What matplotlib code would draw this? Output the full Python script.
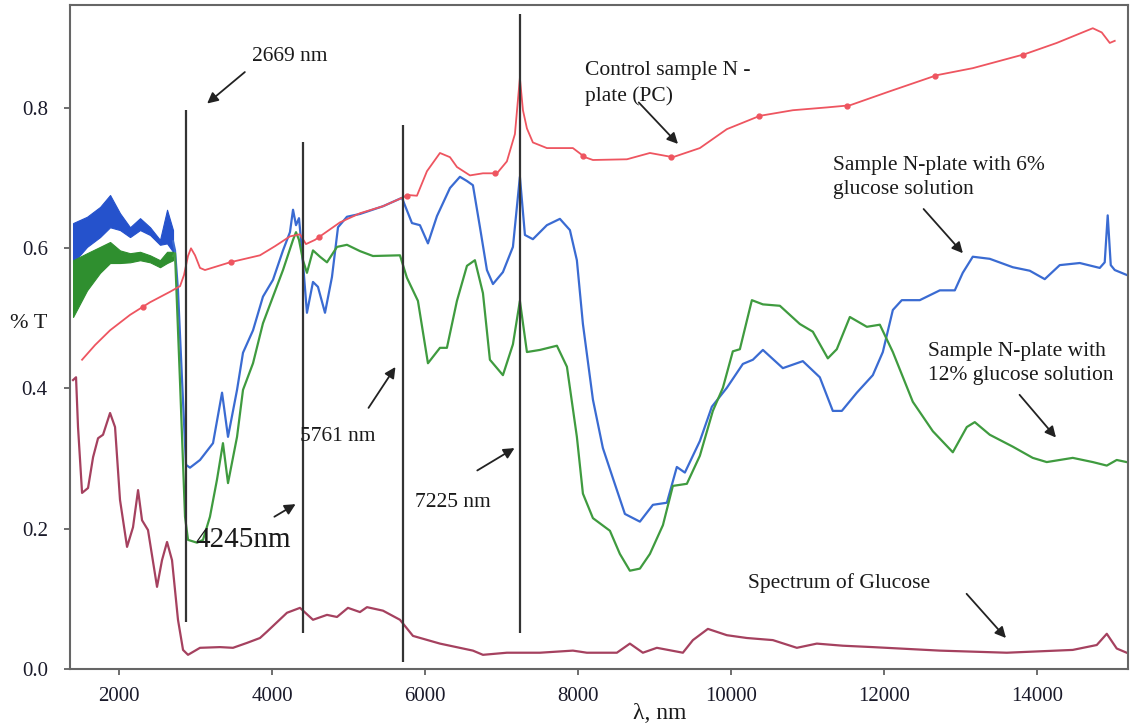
"""
FTIR transmission spectra: control N-plate, N-plate with 6% / 12% glucose, glucose
"""
import numpy as np
import matplotlib
matplotlib.use('Agg')
import matplotlib.pyplot as plt

plt.rcParams['font.family'] = ['Liberation Serif', 'DejaVu Serif']

# control sample N-plate (PC), red
red_x = [1517, 1687, 1883, 2144, 2406, 2667, 2798, 2850, 2902, 2941, 2994, 3059, 3124,
         3451, 3843, 4039, 4235, 4366, 4444, 4562, 4889, 5150, 5451, 5699, 5778, 5895,
         6026, 6196, 6327, 6418, 6588, 6758, 6941, 7071, 7176, 7241, 7281, 7333, 7411,
         7594, 7934, 8091, 8196, 8640, 8941, 9241, 9594, 9947, 10378, 10810, 11254,
         11555, 12077, 12692, 13162, 13842, 14260, 14731, 14848, 14953, 15018]
red_y = [0.441, 0.462, 0.483, 0.505, 0.523, 0.538, 0.546, 0.562, 0.589, 0.600, 0.590,
         0.572, 0.569, 0.580, 0.590, 0.603, 0.617, 0.620, 0.606, 0.612, 0.637, 0.650,
         0.660, 0.672, 0.676, 0.675, 0.710, 0.736, 0.730, 0.716, 0.704, 0.707, 0.707,
         0.724, 0.763, 0.843, 0.797, 0.771, 0.751, 0.743, 0.743, 0.730, 0.726, 0.727,
         0.736, 0.730, 0.743, 0.770, 0.789, 0.797, 0.801, 0.804, 0.824, 0.847, 0.857,
         0.877, 0.893, 0.914, 0.908, 0.893, 0.896]
red_dot_x = [2314, 3464, 4614, 5764, 6914, 8064, 9214, 10364, 11514, 12664, 13814]

# noisy start of the two sample spectra (lower / upper envelope)
band_x = [1399, 1582, 1752, 1883, 2013, 2144, 2275, 2406, 2536, 2628, 2706]
blue_lo = [0.579, 0.602, 0.616, 0.630, 0.626, 0.616, 0.626, 0.619, 0.605, 0.607, 0.595]
blue_hi = [0.636, 0.645, 0.659, 0.676, 0.650, 0.630, 0.643, 0.630, 0.612, 0.655, 0.626]
green_lo = [0.502, 0.540, 0.565, 0.579, 0.579, 0.580, 0.583, 0.580, 0.573, 0.579, 0.583]
green_hi = [0.583, 0.593, 0.602, 0.609, 0.597, 0.593, 0.595, 0.590, 0.583, 0.595, 0.595]

# N-plate with 6% glucose, blue
blue_x = [2706, 2732, 2771, 2824, 2876, 2928, 3059, 3229, 3347, 3425, 3543, 3621, 3752,
          3882, 4013, 4144, 4235, 4275, 4314, 4353, 4392, 4457, 4536, 4601, 4693, 4784,
          4863, 4980, 5150, 5451, 5699, 5830, 5934, 6039, 6157, 6327, 6457, 6549, 6627,
          6719, 6810, 6889, 7019, 7150, 7241, 7307, 7411, 7594, 7764, 7895, 7986, 8065,
          8196, 8326, 8457, 8614, 8810, 8980, 9163, 9293, 9398, 9594, 9751, 9947, 10156,
          10287, 10418, 10679, 10940, 11162, 11332, 11450, 11646, 11855, 11986, 12117,
          12234, 12469, 12731, 12927, 13031, 13162, 13384, 13685, 13907, 14103, 14299,
          14561, 14822, 14887, 14926, 14966, 15018, 15174]
blue_y = [0.610, 0.597, 0.540, 0.412, 0.291, 0.287, 0.298, 0.322, 0.394, 0.331, 0.398,
          0.451, 0.483, 0.531, 0.555, 0.597, 0.623, 0.655, 0.633, 0.643, 0.597, 0.508,
          0.552, 0.545, 0.508, 0.559, 0.630, 0.645, 0.649, 0.660, 0.672, 0.636, 0.633,
          0.607, 0.646, 0.686, 0.702, 0.696, 0.690, 0.630, 0.569, 0.549, 0.566, 0.602,
          0.702, 0.619, 0.613, 0.633, 0.642, 0.626, 0.583, 0.492, 0.384, 0.315, 0.272,
          0.221, 0.210, 0.234, 0.237, 0.288, 0.280, 0.325, 0.374, 0.401, 0.435, 0.441,
          0.455, 0.429, 0.439, 0.416, 0.368, 0.368, 0.394, 0.419, 0.452, 0.512, 0.526,
          0.526, 0.540, 0.540, 0.565, 0.588, 0.585, 0.573, 0.568, 0.556, 0.576, 0.579,
          0.572, 0.580, 0.647, 0.576, 0.569, 0.562]

# N-plate with 12% glucose, green
green_x = [2706, 2732, 2798, 2863, 2902, 3020, 3098, 3189, 3281, 3359, 3425, 3543, 3621,
           3752, 3882, 4013, 4144, 4275, 4314, 4353, 4405, 4457, 4536, 4627, 4719, 4850,
           4980, 5150, 5320, 5673, 5764, 5908, 6039, 6196, 6287, 6418, 6549, 6653, 6758,
           6849, 7019, 7150, 7241, 7333, 7503, 7725, 7856, 7986, 8065, 8196, 8418, 8548,
           8679, 8810, 8941, 9111, 9241, 9424, 9594, 9764, 9895, 10025, 10117, 10274,
           10418, 10640, 10901, 11071, 11267, 11384, 11555, 11777, 11947, 12117, 12378,
           12640, 12901, 13084, 13188, 13384, 13685, 13946, 14129, 14469, 14731, 14914,
           15044, 15174]
green_y = [0.589, 0.593, 0.408, 0.217, 0.184, 0.180, 0.184, 0.217, 0.270, 0.322, 0.265,
           0.331, 0.398, 0.436, 0.493, 0.531, 0.569, 0.612, 0.623, 0.612, 0.583, 0.565,
           0.597, 0.588, 0.580, 0.602, 0.605, 0.596, 0.589, 0.590, 0.558, 0.525, 0.436,
           0.458, 0.458, 0.525, 0.575, 0.583, 0.536, 0.441, 0.419, 0.463, 0.525, 0.452,
           0.455, 0.461, 0.431, 0.331, 0.250, 0.215, 0.197, 0.164, 0.140, 0.143, 0.164,
           0.205, 0.261, 0.264, 0.304, 0.368, 0.401, 0.453, 0.456, 0.526, 0.520, 0.518,
           0.492, 0.481, 0.443, 0.456, 0.502, 0.488, 0.491, 0.452, 0.381, 0.339, 0.309,
           0.345, 0.352, 0.334, 0.317, 0.301, 0.295, 0.301, 0.295, 0.290, 0.298, 0.295]

# spectrum of glucose, maroon
glu_x = [1399, 1438, 1464, 1517, 1595, 1661, 1726, 1791, 1883, 1948, 2013, 2105, 2183,
         2249, 2301, 2379, 2497, 2562, 2628, 2693, 2771, 2837, 2902, 3059, 3320, 3490,
         3673, 3843, 3934, 4196, 4366, 4536, 4719, 4850, 4993, 5150, 5242, 5451, 5673,
         5843, 6196, 6627, 6758, 7071, 7503, 7934, 8117, 8509, 8679, 8849, 9032, 9372,
         9503, 9699, 9947, 10208, 10548, 10862, 11123, 11463, 11855, 12731, 13607,
         14469, 14783, 14914, 15044, 15174]
glu_y = [0.412, 0.416, 0.345, 0.251, 0.258, 0.302, 0.329, 0.334, 0.365, 0.345, 0.241,
         0.174, 0.202, 0.255, 0.212, 0.198, 0.117, 0.155, 0.181, 0.155, 0.070, 0.027,
         0.020, 0.030, 0.031, 0.030, 0.037, 0.044, 0.053, 0.080, 0.087, 0.070, 0.077,
         0.074, 0.087, 0.081, 0.088, 0.083, 0.070, 0.047, 0.036, 0.026, 0.020, 0.023,
         0.023, 0.026, 0.023, 0.023, 0.036, 0.023, 0.030, 0.023, 0.041, 0.057, 0.048,
         0.044, 0.041, 0.030, 0.036, 0.033, 0.031, 0.026, 0.023, 0.027, 0.034, 0.050,
         0.029, 0.023]

# marked wavelengths: x, bottom, top of the black lines
mark_x = [2876, 4405, 5712, 7241]
mark_lo = [0.067, 0.051, 0.010, 0.051]
mark_hi = [0.797, 0.751, 0.776, 0.934]

red_c = '#ee5560'
blue_c = '#3a6bd2'
green_c = '#3f9b3f'
glu_c = '#a5415f'

fig = plt.figure(figsize=(11.3, 7.27), dpi=100)
ax = fig.add_axes([0.062, 0.08, 0.936, 0.913])

ax.fill_between(band_x, blue_lo, blue_hi, color='#2552cc', lw=0.8)
ax.fill_between(band_x, green_lo, green_hi, color='#2f8f2f', lw=0.8)
ax.plot(blue_x, blue_y, color=blue_c, lw=1.6)
ax.plot(green_x, green_y, color=green_c, lw=1.6)
ax.plot(red_x, red_y, color=red_c, lw=1.3)
ax.plot(red_dot_x, np.interp(red_dot_x, red_x, red_y), 'o', color=red_c, ms=3.5)
ax.plot(glu_x, glu_y, color=glu_c, lw=1.6)

ax.vlines(mark_x, mark_lo, mark_hi, color='#333333', lw=1.6)

arrow = dict(arrowstyle='-|>', color='#222222', lw=1.3, mutation_scale=16)
tkw = dict(fontsize=15.5, color='#1a1a1a', va='center', ha='left')

ax.annotate('', xy=(3124, 0.804), xytext=(3673, 0.854), arrowprops=arrow)
ax.text(3739, 0.873, '2669 nm', **tkw)
ax.annotate('', xy=(4340, 0.237), xytext=(4000, 0.215), arrowprops=arrow)
ax.text(2994, 0.184, '4245nm', fontsize=21, color='#1a1a1a', va='center', ha='left')
ax.annotate('', xy=(5634, 0.434), xytext=(5242, 0.369), arrowprops=arrow)
ax.text(4366, 0.331, '5761 nm', **tkw)
ax.annotate('', xy=(7202, 0.317), xytext=(6653, 0.281), arrowprops=arrow)
ax.text(5869, 0.237, '7225 nm', **tkw)

ax.annotate('', xy=(9333, 0.746), xytext=(8770, 0.811), arrowprops=arrow)
ax.text(8091, 0.835, 'Control sample N -\nplate (PC)', linespacing=1.4, **tkw)
ax.annotate('', xy=(13057, 0.590), xytext=(12495, 0.659), arrowprops=arrow)
ax.text(11332, 0.701, 'Sample N-plate with 6%\nglucose solution', linespacing=1.4, **tkw)
ax.annotate('', xy=(14273, 0.327), xytext=(13750, 0.394), arrowprops=arrow)
ax.text(12574, 0.436, 'Sample N-plate with\n12% glucose solution', linespacing=1.35, **tkw)
ax.annotate('', xy=(13620, 0.041), xytext=(13057, 0.110), arrowprops=arrow)
ax.text(10221, 0.123, 'Spectrum of Glucose', **tkw)

ax.set_xlim(1360, 15188)
ax.set_ylim(0, 0.947)
ax.set_xticks([2000, 4000, 6000, 8000, 10000, 12000, 14000])
ax.set_yticks([0.0, 0.2, 0.4, 0.6, 0.8])
ax.set_yticklabels(['0.0', '0.2', '0.4', '0.6', '0.8'])
ax.tick_params(labelsize=15, colors='#555555', labelcolor='#1a1a2a', length=4, width=1.2)
ax.tick_params(axis='y', pad=12)
ax.tick_params(axis='x', pad=9)
for s in ax.spines.values():
    s.set_color('#666666')
    s.set_linewidth(1.5)

fig.text(0.025, 0.555, '% T', fontsize=16, color='#1a1a1a', ha='center', va='center')
fig.text(0.584, 0.018, 'λ, nm', fontsize=17, color='#1a1a1a', ha='center', va='center')

plt.savefig('out.png', dpi=100)
